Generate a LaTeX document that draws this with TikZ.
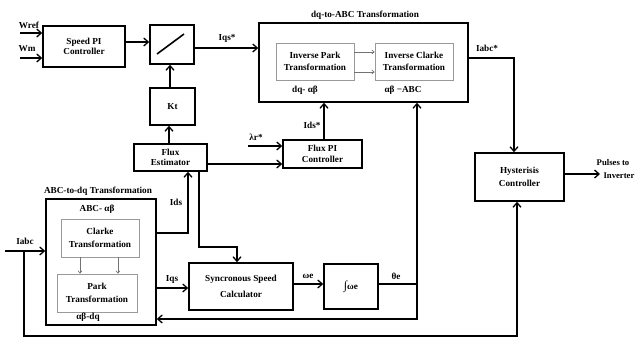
\documentclass[tikz,border=0pt]{standalone}
\usepackage{fontspec}
\setmainfont{Liberation Serif}
\usetikzlibrary{arrows.meta}
\begin{document}
\begin{tikzpicture}[x=1pt,y=-1pt,
  every node/.style={font=\fontsize{9.2}{10.5}\selectfont\bfseries, inner sep=0pt},
  blk/.style={draw, line width=1.6pt, align=center},
  inner/.style={draw=gray!80, line width=0.6pt, align=center},
  conn/.style={line width=1.6pt, -{Straight Barb[length=4.5pt,width=8pt,line width=1.3pt]}},
  plain/.style={line width=1.6pt},
  thin/.style={draw=gray!90!black, line width=0.6pt, -{Straight Barb[length=2.5pt,width=4pt,line width=0.6pt]}}]
\useasboundingbox (0,0) rectangle (637,338);
% blocks
\node[blk, minimum width=82pt, minimum height=41pt] (speedpi) at (84,46.5) {Speed PI\\Controller};
\node[blk, minimum width=44pt, minimum height=39pt] (lim) at (172,44.5) {};
\draw[line width=1.6pt] (157,54) -- (184,34);
\node[blk, minimum width=45pt, minimum height=37pt] (kt) at (172.5,106.5) {Kt};
\node[blk, minimum width=209pt, minimum height=79pt] (dqabc) at (363.5,62.5) {};
\node[inner, minimum width=78pt, minimum height=37pt] (ipark) at (315,61.5) {Inverse Park\\[2pt]Transformation};
\node[inner, minimum width=78pt, minimum height=37pt] (iclarke) at (414,61.5) {Inverse Clarke\\[2pt]Transformation};
\node[blk, minimum width=89pt, minimum height=48pt] (hyst) at (519.5,177) {Hysterisis\\[2pt]Controller};
\node[blk, minimum width=73pt, minimum height=27pt] (fluxest) at (170.5,157.5) {Flux\\Estimator};
\node[blk, minimum width=79pt, minimum height=28pt] (fluxpi) at (322.5,154) {Flux PI\\Controller};
\node[blk, minimum width=110pt, minimum height=126pt] (abcdq) at (101,262) {};
\node[inner, minimum width=78pt, minimum height=38pt] (clarke) at (100,238) {Clarke\\[2pt]Transformation};
\node[inner, minimum width=80pt, minimum height=38pt] (park) at (97,293) {Park\\[2pt]Transformation};
\node[blk, minimum width=104pt, minimum height=47pt] (sync) at (241,286.5) {Syncronous Speed\\[5pt]Calculator};
\node[blk, minimum width=54pt, minimum height=45pt] (integ) at (351,286.5) {{\fontsize{12}{12}\selectfont ∫}ωe};
% titles and labels
\node (t1) at (365,15) {dq-to-ABC Transformation};
\node (t2) at (98,191) {ABC-to-dq Transformation};
\node (l1) at (97,209) {ABC- αβ};
\node (l2) at (88,317) {αβ-dq};
\node (l3) at (305,90) {dq- αβ};
\node (l4) at (403,90) {αβ −ABC};
\node (wref) at (29,25) {Wref};
\node (wm) at (27,49) {Wm};
\node (iqss) at (227,38) {Iqs*};
\node (lam) at (256,137) {λr*};
\node (idss) at (312,125) {Ids*};
\node (iabcs) at (487,48) {Iabc*};
\node[font=\fontsize{8.7}{10}\selectfont\bfseries] (pul) at (613,163) {Pulses to};
\node[font=\fontsize{8.7}{10}\selectfont\bfseries] (inv) at (619,176) {Inverter};
\node (ids) at (176,202) {Ids};
\node (iqs) at (172,279) {Iqs};
\node (we) at (308,276) {ωe};
\node (the) at (396,276) {θe};
\node (iabc) at (25,241) {Iabc};
% coordinates
\coordinate (wrefs) at (20,33);
\coordinate (wms) at (20,58);
\coordinate (lams) at (248,146);
\coordinate (iabcin) at (5,251);
\coordinate (fbj) at (24,251);
\coordinate (fbb) at (24,336);
\coordinate (fbr) at (517,336);
\coordinate (thj) at (417,284);
\coordinate (thb) at (417,319);
\coordinate (out) at (600,174);
% connectors
\draw[conn] (wrefs) -- (wrefs -| speedpi.west);
\draw[conn] (wms) -- (wms -| speedpi.west);
\draw[conn] (speedpi.east |- 0,42) -- (lim.west |- 0,42);
\draw[conn] (lim.east |- 0,48) -- (dqabc.west |- 0,48);
\draw[conn] (kt.north -| 170,0) -- (lim.south -| 170,0);
\draw[conn] (fluxest.north -| 169,0) -- (kt.south -| 169,0);
\draw[conn] (fluxest.east |- 0,164) -- (fluxpi.west |- 0,164);
\draw[conn] (lams) -- (lams -| fluxpi.west);
\draw[conn] (fluxpi.north -| 324,0) -- (dqabc.south -| 324,0);
\draw[conn] (dqabc.east |- 0,58) -- (514,58) -- (hyst.north -| 514,0);
\draw[conn] (hyst.east |- out) -- (out);
\draw[conn] (abcdq.east |- 0,233) -- (188,233) -- (fluxest.south -| 188,0);
\draw[conn] (fluxest.south -| 199,0) -- (199,247) -- (237,247) -- (sync.north -| 237,0);
\draw[conn] (abcdq.east |- 0,288) -- (sync.west |- 0,288);
\draw[conn] (sync.east |- thj) -- (integ.west |- thj);
\draw[plain] (integ.east |- thj) -- (thj);
\draw[conn] (thj) -- (dqabc.south -| thj);
\draw[conn] (thj) -- (thb) -- (abcdq.east |- thb);
\draw[conn] (iabcin) -- (abcdq.west |- iabcin);
\draw[conn] (fbj) -- (fbb) -- (fbr) -- (hyst.south -| fbr);
% inner arrows
\draw[thin] (ipark.east |- 0,52) -- (iclarke.west |- 0,52);
\draw[thin] (ipark.east |- 0,72) -- (iclarke.west |- 0,72);
\draw[thin] (clarke.south -| 80,0) -- (park.north -| 80,0);
\draw[thin] (clarke.south -| 118,0) -- (park.north -| 118,0);
\end{tikzpicture}
\end{document}
